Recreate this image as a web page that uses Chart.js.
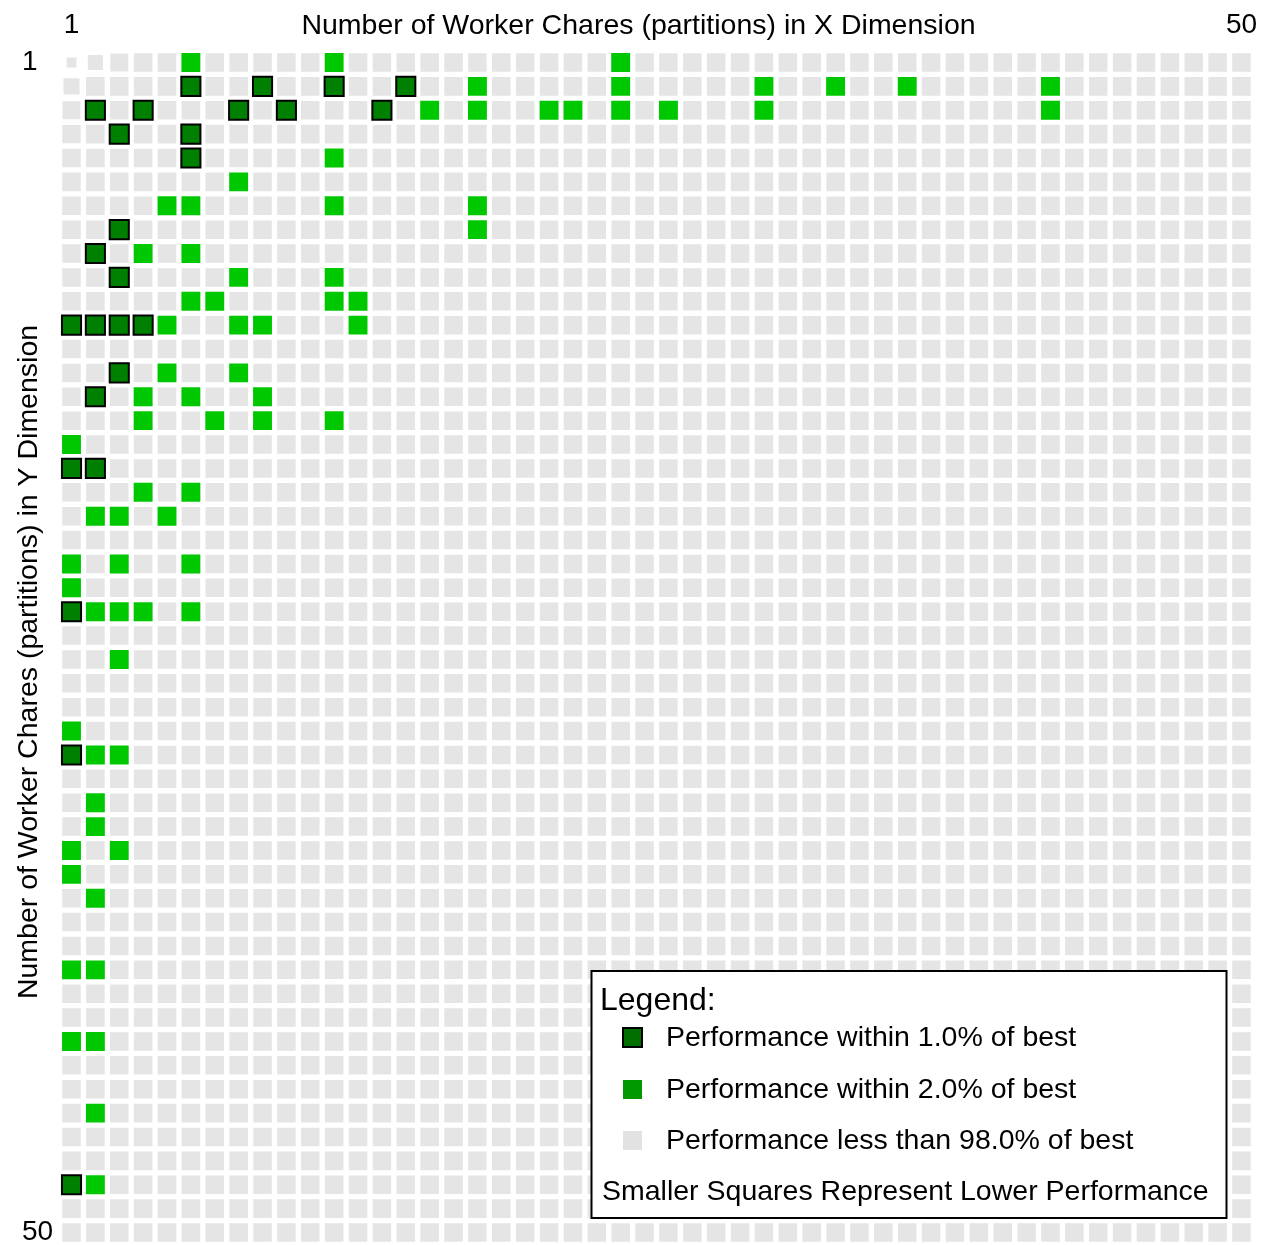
<!DOCTYPE html>
<html>
<head>
<meta charset="utf-8">
<title>Worker chare partition performance</title>
<script src="https://cdn.jsdelivr.net/npm/chart.js@4/dist/chart.umd.min.js"></script>
<style>
  html, body { margin: 0; padding: 0; background: #ffffff; }
  canvas { display: block; }
</style>
</head>
<body>
<canvas id="grid" width="1267" height="1245"></canvas>
<script>
// Partition counts tried along each dimension
const xPartitions = [1,2,3,4,5,6,7,8,9,10,11,12,13,14,15,16,17,18,19,20,21,22,23,24,25,
                     26,27,28,29,30,31,32,33,34,35,36,37,38,39,40,41,42,43,44,45,46,47,48,49,50];
const yPartitions = [1,2,3,4,5,6,7,8,9,10,11,12,13,14,15,16,17,18,19,20,21,22,23,24,25,
                     26,27,28,29,30,31,32,33,34,35,36,37,38,39,40,41,42,43,44,45,46,47,48,49,50];
const tickLabels = [1, 50];

// [x partitions, y partitions] of configurations within 1.0% of the best time
const within1Pct = [
  [6,2],[9,2],[12,2],[15,2],
  [2,3],[4,3],[8,3],[10,3],[14,3],
  [3,4],[6,4],[6,5],[3,8],[2,9],[3,10],
  [1,12],[2,12],[3,12],[4,12],
  [3,14],[2,15],[1,18],[2,18],[1,24],[1,30],[1,48]
];

// [x partitions, y partitions] of configurations within 2.0% of the best time
const within2Pct = [
  [6,1],[12,1],[24,1],
  [18,2],[24,2],[30,2],[33,2],[36,2],[42,2],
  [16,3],[18,3],[21,3],[22,3],[24,3],[26,3],[30,3],[42,3],
  [12,5],[8,6],[5,7],[6,7],[12,7],[18,7],[18,8],
  [4,9],[6,9],[8,10],[12,10],
  [6,11],[7,11],[12,11],[13,11],
  [5,12],[8,12],[9,12],[13,12],
  [5,14],[8,14],[4,15],[6,15],[9,15],
  [4,16],[7,16],[9,16],[12,16],
  [1,17],[4,19],[6,19],[2,20],[3,20],[5,20],
  [1,22],[3,22],[6,22],[1,23],
  [2,24],[3,24],[4,24],[6,24],
  [3,26],[1,29],[2,30],[3,30],[2,32],[2,33],[1,34],[3,34],[1,35],[2,36],
  [1,39],[2,39],[1,42],[2,42],[2,45],[2,48]
];

// Relative performance (fraction of best) of the noticeably slower configurations
const slowCells = [
  [1,1,0.52],[2,1,0.79],[3,1,0.94],[1,2,0.84],[1,3,0.94],[1,4,0.96]
];
const typicalRelPerf = 0.97;   // remaining configurations, just under 98%
const within1RelPerf = 1.0;
const within2RelPerf = 0.99;

const xTitle = 'Number of Worker Chares (partitions) in X Dimension';
const yTitle = 'Number of Worker Chares (partitions) in Y Dimension';
const legendTitle = 'Legend:';
const legendNote = 'Smaller Squares Represent Lower Performance';

const FONT = '"Liberation Sans", Arial, Helvetica, sans-serif';
const SIDE_FRACTION = 0.8;       // full-performance square side as a share of one cell

// ---- build point lists ----
const key = (x, y) => x + ':' + y;
const marked = new Set([...within1Pct, ...within2Pct].map(([x, y]) => key(x, y)));
const slowLookup = new Map(slowCells.map(([x, y, r]) => [key(x, y), r]));

const within1Points = within1Pct.map(([x, y]) => ({ x, y, r: within1RelPerf }));
const within2Points = within2Pct.map(([x, y]) => ({ x, y, r: within2RelPerf }));
const otherPoints = [];
for (const y of yPartitions) {
  for (const x of xPartitions) {
    const k = key(x, y);
    if (marked.has(k)) continue;
    otherPoints.push({ x, y, r: slowLookup.has(k) ? slowLookup.get(k) : typicalRelPerf });
  }
}

// square side scales with relative performance; 'rect' side = radius * sqrt(2)
function squareRadius(ctx) {
  if (!ctx.raw) return 0;
  const sx = ctx.chart.scales.x;
  const cell = Math.abs(sx.getPixelForValue(2) - sx.getPixelForValue(1));
  return cell * SIDE_FRACTION * ctx.raw.r / Math.SQRT2;
}

// fixed axis thickness, and no extra room reserved for end labels
function fixAxis(size) {
  return (s) => {
    if (s.isHorizontal()) s.height = size; else s.width = size;
    s.paddingTop = 0; s.paddingBottom = 0; s.paddingLeft = 0; s.paddingRight = 0;
  };
}

// axis captions and boxed legend
const captionsPlugin = {
  id: 'captions',
  afterDraw(chart) {
    const { ctx } = chart;
    const ds = chart.data.datasets;
    ctx.save();
    ctx.fillStyle = '#000';
    ctx.textBaseline = 'alphabetic';

    ctx.font = '28.5px ' + FONT;
    ctx.textAlign = 'center';
    ctx.fillText(xTitle, 638.5, 33.5);
    ctx.save();
    ctx.translate(37, 662);
    ctx.rotate(-Math.PI / 2);
    ctx.fillText(yTitle, 0, 0);
    ctx.restore();

    // legend frame
    ctx.fillStyle = '#ffffff';
    ctx.fillRect(591.5, 971, 635, 247);
    ctx.lineWidth = 2;
    ctx.strokeStyle = '#000';
    ctx.strokeRect(591.5, 971, 635, 247);

    ctx.fillStyle = '#000';
    ctx.textAlign = 'left';
    ctx.font = '32px ' + FONT;
    ctx.fillText(legendTitle, 600, 1010);

    const rows = [
      { d: ds[0], cy: 1037.5, base: 1046, fill: '#006f00', border: true },
      { d: ds[1], cy: 1089.5, base: 1098, fill: '#009a00', border: false },
      { d: ds[2], cy: 1140.5, base: 1149, fill: '#e2e2e2', border: false }
    ];
    ctx.font = '28.5px ' + FONT;
    for (const row of rows) {
      ctx.fillStyle = row.fill;
      ctx.fillRect(623, row.cy - 9.5, 19, 19);
      if (row.border) {
        ctx.lineWidth = 2;
        ctx.strokeStyle = '#000';
        ctx.strokeRect(623, row.cy - 9.5, 19, 19);
      }
      ctx.fillStyle = '#000';
      ctx.fillText(row.d.label, 666, row.base);
    }
    ctx.fillText(legendNote, 602, 1200);
    ctx.restore();
  }
};

new Chart(document.getElementById('grid'), {
  type: 'scatter',
  data: {
    datasets: [
      {
        label: 'Performance within 1.0% of best',
        data: within1Points,
        pointStyle: 'rect',
        pointRadius: squareRadius,
        backgroundColor: '#008000',
        borderColor: '#000000',
        borderWidth: 2
      },
      {
        label: 'Performance within 2.0% of best',
        data: within2Points,
        pointStyle: 'rect',
        pointRadius: squareRadius,
        backgroundColor: '#00c800',
        borderWidth: 0
      },
      {
        label: 'Performance less than 98.0% of best',
        data: otherPoints,
        pointStyle: 'rect',
        pointRadius: squareRadius,
        backgroundColor: '#e5e5e5',
        borderWidth: 0
      }
    ]
  },
  options: {
    responsive: false,
    animation: false,
    events: [],
    devicePixelRatio: 1,
    layout: { padding: { left: 22, top: 0, right: 13.56, bottom: 0.56 } },
    plugins: {
      legend: { display: false },
      tooltip: { enabled: false },
      title: { display: false }
    },
    scales: {
      x: {
        type: 'linear',
        position: 'top',
        min: 0.5,
        max: 50.5,
        afterBuildTicks: (s) => { s.ticks = tickLabels.map(v => ({ value: v })); },
        afterFit: fixAxis(50.56),
        grid: { display: false },
        border: { display: false },
        ticks: {
          autoSkip: false,
          maxRotation: 0,
          padding: 0.5,
          color: '#000',
          font: { family: FONT, size: 28 },
          callback: (v) => String(v)
        }
      },
      y: {
        type: 'linear',
        reverse: true,
        min: 0.5,
        max: 50.5,
        afterBuildTicks: (s) => { s.ticks = tickLabels.map(v => ({ value: v })); },
        afterFit: fixAxis(37.56),
        grid: { display: false },
        border: { display: false },
        ticks: {
          autoSkip: false,
          crossAlign: 'far',
          color: '#000',
          font: { family: FONT, size: 28 },
          callback: (v) => String(v)
        }
      }
    }
  },
  plugins: [captionsPlugin]
});
</script>
</body>
</html>
